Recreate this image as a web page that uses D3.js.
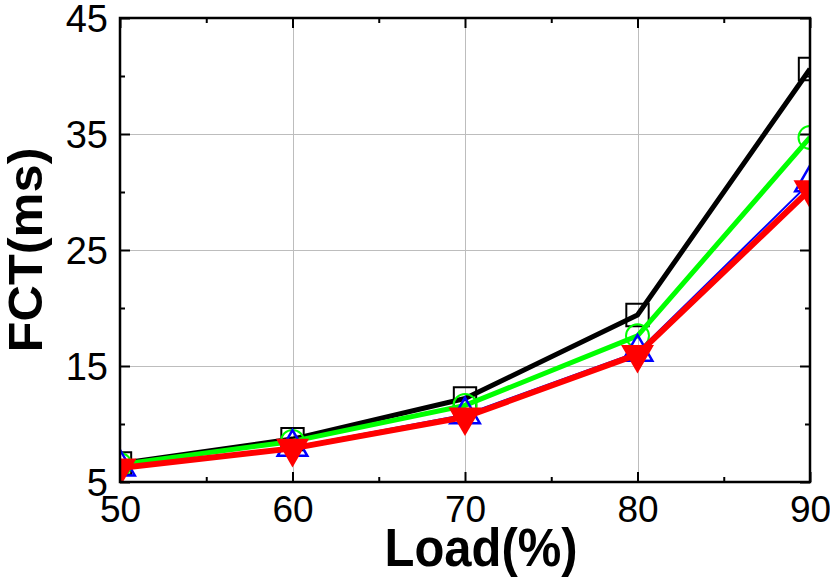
<!DOCTYPE html>
<html><head><meta charset="utf-8">
<script src="https://cdn.jsdelivr.net/npm/d3@7"></script>
<style>body{margin:0;background:#fff}svg{display:block}</style>
</head><body>
<svg id="c" width="830" height="580"></svg>
<script>
const loads = [50, 60, 70, 80, 90];
const fctBlack = [6.6, 8.7, 12.2, 19.4, 40.6];
const fctGreen = [6.5, 8.5, 11.6, 17.6, 34.7];
const fctBlue  = [6.3, 8.0, 10.8, 16.2, 30.8];
const fctRed   = [6.2, 7.9, 10.6, 16.0, 30.2];
const xMajor = [50, 60, 70, 80, 90];
const xMinor = [55, 65, 75, 85];
const yMajor = [5, 15, 25, 35, 45];
const yMinor = [10, 20, 30, 40];
const xTitle = "Load(%)";
const yTitle = "FCT(ms)";

const L = 120, R = 810, T = 18, B = 482;
const svg = d3.select("#c");
const x = d3.scaleLinear().domain([50, 90]).range([L, R]);
const y = d3.scaleLinear().domain([5, 45]).range([B, T]);
const font = "'Liberation Sans', Arial, Helvetica, sans-serif";

svg.append("defs").append("clipPath").attr("id", "clip")
  .append("rect").attr("x", L).attr("y", T).attr("width", R - L).attr("height", B - T);

// grid
const grid = svg.append("g").attr("stroke", "#bdbdbd").attr("stroke-width", 1);
grid.selectAll("line.v").data(xMajor.slice(1, -1)).join("line")
  .attr("x1", d => Math.round(x(d)) + 0.5).attr("x2", d => Math.round(x(d)) + 0.5)
  .attr("y1", T).attr("y2", B);
grid.selectAll("line.h").data(yMajor.slice(1, -1)).join("line")
  .attr("y1", d => Math.round(y(d)) + 0.5).attr("y2", d => Math.round(y(d)) + 0.5)
  .attr("x1", L).attr("x2", R);

// axes with inward ticks
function styleAxis(g) {
  g.select(".domain").remove();
  g.selectAll(".tick line").attr("stroke", "#000").attr("stroke-width", 2);
}
const big = 10, small = 5;
svg.append("g").attr("transform", `translate(0,${B})`)
  .call(d3.axisBottom(x).tickValues(xMajor).tickSize(-big).tickPadding(14).tickFormat(d3.format("d")))
  .call(styleAxis)
  .call(g => g.selectAll("text").attr("font-family", font).attr("font-size", 37).attr("fill", "#000").attr("dy", "0.71em"));
svg.append("g").attr("transform", `translate(0,${B})`)
  .call(d3.axisBottom(x).tickValues(xMinor).tickSize(-small).tickFormat(""))
  .call(styleAxis);
svg.append("g").attr("transform", `translate(0,${T})`)
  .call(d3.axisTop(x).tickValues(xMajor).tickSize(-big).tickFormat(""))
  .call(styleAxis);
svg.append("g").attr("transform", `translate(0,${T})`)
  .call(d3.axisTop(x).tickValues(xMinor).tickSize(-small).tickFormat(""))
  .call(styleAxis);
svg.append("g").attr("transform", `translate(${L},0)`)
  .call(d3.axisLeft(y).tickValues(yMajor).tickSize(-big).tickPadding(12).tickFormat(d3.format("d")))
  .call(styleAxis)
  .call(g => g.selectAll("text").attr("font-family", font).attr("font-size", 38).attr("fill", "#000").attr("dy", "0.35em"));
svg.append("g").attr("transform", `translate(${L},0)`)
  .call(d3.axisLeft(y).tickValues(yMinor).tickSize(-small).tickFormat(""))
  .call(styleAxis);
svg.append("g").attr("transform", `translate(${R},0)`)
  .call(d3.axisRight(y).tickValues(yMajor).tickSize(-big).tickFormat(""))
  .call(styleAxis);
svg.append("g").attr("transform", `translate(${R},0)`)
  .call(d3.axisRight(y).tickValues(yMinor).tickSize(-small).tickFormat(""))
  .call(styleAxis);

// series
const series = [
  { vals: fctBlack, color: "#000000", lw: 5, sym: d3.symbolSquare, size: 500, fill: "none", sw: 2, rot: 0 },
  { vals: fctGreen, color: "#00ff00", lw: 5, sym: d3.symbolCircle, size: 415, fill: "none", sw: 2, rot: 0 },
  { vals: fctBlue,  color: "#0000ff", lw: 2, sym: d3.symbolTriangle, size: 380, fill: "none", sw: 2.5, rot: 0 },
  { vals: fctRed,   color: "#ff0000", lw: 6, sym: d3.symbolTriangle, size: 470, fill: "#ff0000", sw: 0, rot: 180 }
];
const plot = svg.append("g").attr("clip-path", "url(#clip)");
const line = d3.line().x((d, i) => x(loads[i])).y(d => y(d));
series.forEach(s => {
  const g = plot.append("g");
  g.append("path").attr("d", line(s.vals)).attr("fill", "none")
    .attr("stroke", s.color).attr("stroke-width", s.lw).attr("stroke-linejoin", "round");
  g.selectAll("path.m").data(s.vals).join("path").attr("class", "m")
    .attr("d", d3.symbol().type(s.sym).size(s.size)())
    .attr("transform", (d, i) => `translate(${x(loads[i])},${y(d)}) rotate(${s.rot})`)
    .attr("fill", s.fill === "none" ? "none" : s.fill)
    .attr("stroke", s.sw ? s.color : "none").attr("stroke-width", s.sw);
});

// frame
svg.append("rect").attr("x", L).attr("y", T).attr("width", R - L).attr("height", B - T)
  .attr("fill", "none").attr("stroke", "#000").attr("stroke-width", 2.5);

// titles
svg.append("text").attr("x", 481).attr("y", 566).attr("text-anchor", "middle")
  .attr("font-family", font).attr("font-weight", "bold").attr("font-size", 54)
  .attr("textLength", 193).attr("lengthAdjust", "spacingAndGlyphs").text(xTitle);
svg.append("text").attr("transform", "translate(42,250) rotate(-90)").attr("text-anchor", "middle")
  .attr("font-family", font).attr("font-weight", "bold").attr("font-size", 48)
  .attr("textLength", 205).attr("lengthAdjust", "spacingAndGlyphs").text(yTitle);
</script>
</body></html>
